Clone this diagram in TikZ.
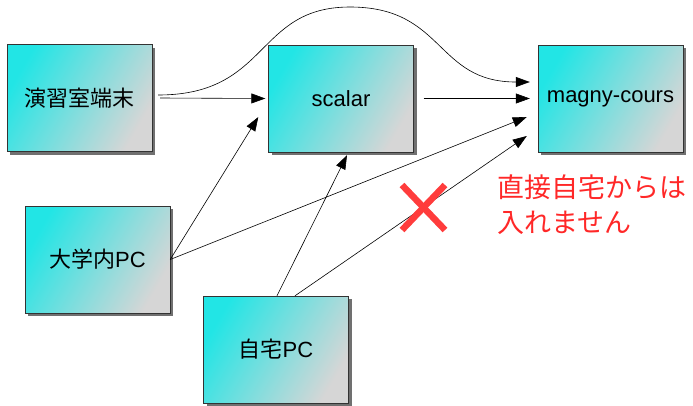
\documentclass[tikz,border=0pt]{standalone}
\usepackage{fontspec}
\setmainfont{Liberation Sans}
\newfontfamily\jp{Noto Sans CJK JP}
\usetikzlibrary{arrows.meta,shadows}

\definecolor{boxcyan}{RGB}{34,229,229}
\definecolor{boxgray}{RGB}{214,214,214}
\definecolor{shadowgray}{RGB}{112,112,112}
\definecolor{ngred}{RGB}{255,40,40}
\definecolor{crossred}{RGB}{255,60,60}

\tikzset{
	host/.style={rectangle, draw=black!80, thin, minimum width=145pt, minimum height=107pt,
		left color=boxcyan, right color=boxgray, shading angle=60,
		drop shadow={shadow xshift=3pt, shadow yshift=-3pt, fill=shadowgray, opacity=1},
		font=\fontsize{22}{26}\selectfont},
	conn/.style={-{Triangle[length=14pt,width=10pt]}, black, line width=0.6pt}
}

\begin{document}
\begin{tikzpicture}[x=1pt,y=-1pt]
	\useasboundingbox (0,0) rectangle (693,405);

	% hosts
	\node[host] (ensyu) at (79.5,98) {\jp 演習室端末};
	\node[host] (scalar) at (341,98.5) {scalar};
	\node[host] (magny) at (610.5,98.5) {magny-cours};
	\node[host] (gakunai) at (97.5,259.5) {{\jp 大学内}PC};
	\node[host] (jitaku) at (276,349.5) {{\jp 自宅}PC};

	% ssh routes
	\coordinate (peak) at (350,7);
	\draw[conn] ([xshift=8pt]ensyu.east) -- ([xshift=-3pt]scalar.west);
	\draw[conn] ([xshift=6pt,yshift=3pt]ensyu.east) .. controls (270,95) and (255,7) .. (peak)
		.. controls (445,7) and (435,82) .. ([xshift=-8pt,yshift=16.5pt]magny.west);
	\draw[conn] ([xshift=10pt]scalar.east) -- ([xshift=-8pt]magny.west);
	\draw[conn] (gakunai.east) -- ([xshift=-10pt,yshift=-18.5pt]scalar.west);
	\draw[conn] (gakunai.east) -- ([xshift=-11pt,yshift=-18.5pt]magny.west);
	\draw[conn] ([xshift=1pt]jitaku.north) -- ([xshift=6pt,yshift=-3pt]scalar.south);
	\draw[conn] ([xshift=19pt]jitaku.north) -- ([xshift=-11pt,yshift=-37.5pt]magny.west);

	% no direct access from home
	\draw[crossred, line width=6.5pt] (402,185) -- (445,230) (445,185) -- (402,230);
	\node[anchor=west, align=left, text=ngred, font=\jp\fontsize{27}{35}\selectfont, inner sep=0pt]
		(note) at (497,205) {直接自宅からは\\入れません};
\end{tikzpicture}
\end{document}
